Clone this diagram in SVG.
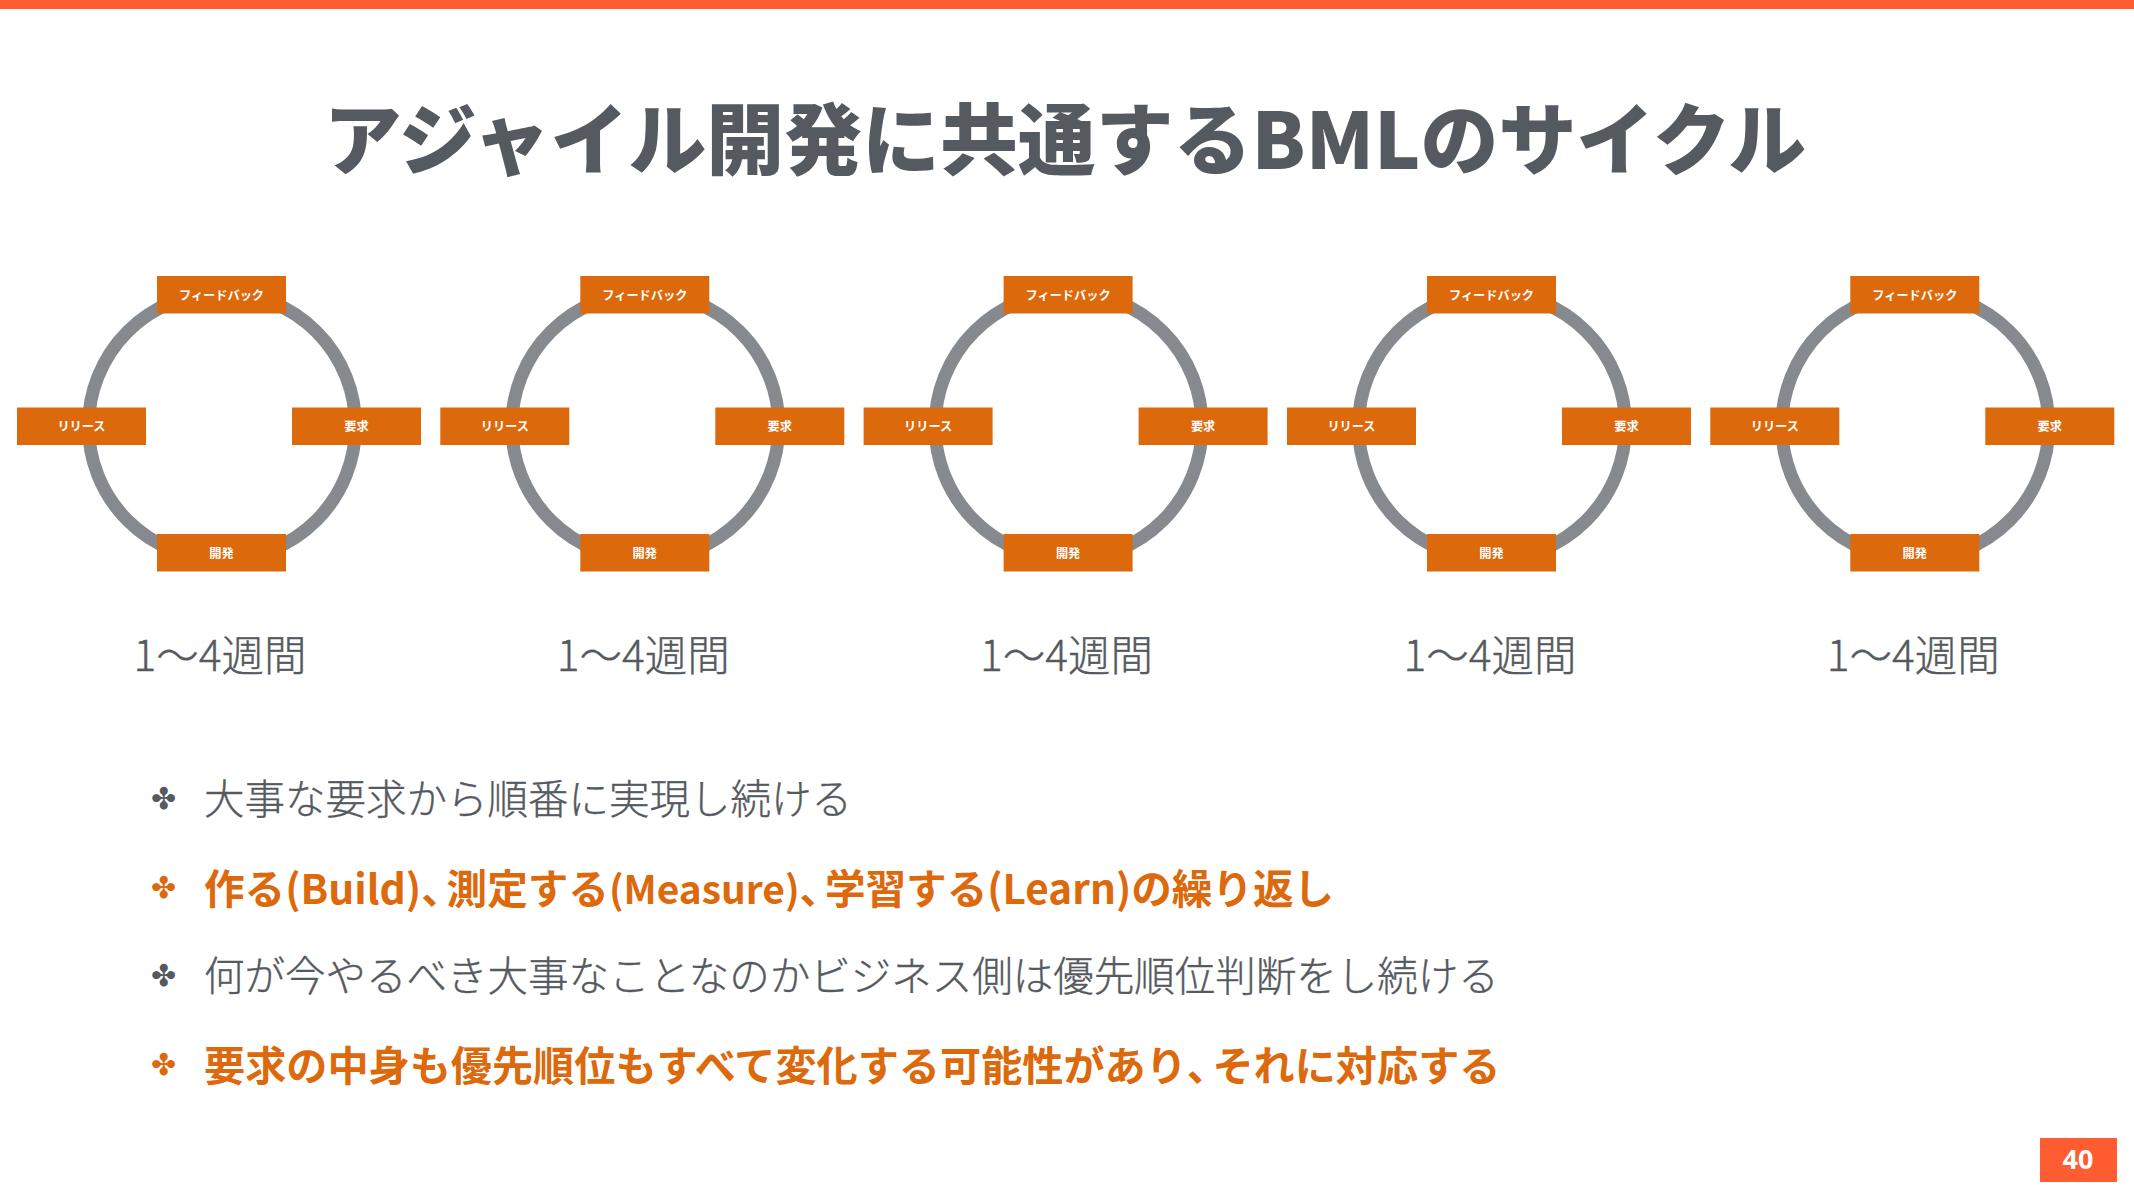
<svg xmlns="http://www.w3.org/2000/svg" width="2134" height="1200" viewBox="0 0 2134 1200">
<style>
text{font-family:"Noto Sans CJK JP","Noto Sans",sans-serif}
.ring{fill:none;stroke:#868a8f;stroke-width:13}
.box{fill:#dd690d}
.lbl{font-size:12.200px;font-weight:700;fill:#fff;text-anchor:middle}
.wk{font-size:42.500px;font-weight:300;fill:#555a60;stroke:#555a60;stroke-width:.35;text-anchor:middle}
.b{font-size:40.500px;font-weight:300;fill:#555a60;stroke:#555a60;stroke-width:.35}
.o{font-size:41.150px;font-weight:700;fill:#dd690d;stroke:none}
.p{font-feature-settings:"palt"}
.m{font-family:"DejaVu Sans",sans-serif;font-size:30px;fill:#555a60}
.mo{fill:#dd690d}
</style>
<rect width="2134" height="1200" fill="#fff"/>
<rect id="top-bar" width="2134" height="9" fill="#ff5d31"/>
<text id="title" x="1065" y="169" text-anchor="middle" font-size="77.900" font-weight="900" fill="#555a60">アジャイル開発に共通するBMLのサイクル</text>
<g id="cycle-1">
<circle class="ring" cx="222" cy="426" r="133.500"/>
<rect class="box" x="157" y="276" width="129" height="37.500"/>
<rect class="box" x="17" y="407.500" width="129" height="37.500"/>
<rect class="box" x="292" y="407.500" width="129" height="37.500"/>
<rect class="box" x="157" y="534" width="129" height="37.500"/>
<text class="lbl" x="221.500" y="299.500">フィードバック</text>
<text class="lbl" x="81.500" y="431">リリース</text>
<text class="lbl" x="356.500" y="431">要求</text>
<text class="lbl" x="221.500" y="558">開発</text>
<text class="wk" x="220" y="670.500">1～4週間</text>
</g>
<g id="cycle-2" transform="translate(423.300 0)">
<circle class="ring" cx="222" cy="426" r="133.500"/>
<rect class="box" x="157" y="276" width="129" height="37.500"/>
<rect class="box" x="17" y="407.500" width="129" height="37.500"/>
<rect class="box" x="292" y="407.500" width="129" height="37.500"/>
<rect class="box" x="157" y="534" width="129" height="37.500"/>
<text class="lbl" x="221.500" y="299.500">フィードバック</text>
<text class="lbl" x="81.500" y="431">リリース</text>
<text class="lbl" x="356.500" y="431">要求</text>
<text class="lbl" x="221.500" y="558">開発</text>
<text class="wk" x="220" y="670.500">1～4週間</text>
</g>
<g id="cycle-3" transform="translate(846.600 0)">
<circle class="ring" cx="222" cy="426" r="133.500"/>
<rect class="box" x="157" y="276" width="129" height="37.500"/>
<rect class="box" x="17" y="407.500" width="129" height="37.500"/>
<rect class="box" x="292" y="407.500" width="129" height="37.500"/>
<rect class="box" x="157" y="534" width="129" height="37.500"/>
<text class="lbl" x="221.500" y="299.500">フィードバック</text>
<text class="lbl" x="81.500" y="431">リリース</text>
<text class="lbl" x="356.500" y="431">要求</text>
<text class="lbl" x="221.500" y="558">開発</text>
<text class="wk" x="220" y="670.500">1～4週間</text>
</g>
<g id="cycle-4" transform="translate(1270 0)">
<circle class="ring" cx="222" cy="426" r="133.500"/>
<rect class="box" x="157" y="276" width="129" height="37.500"/>
<rect class="box" x="17" y="407.500" width="129" height="37.500"/>
<rect class="box" x="292" y="407.500" width="129" height="37.500"/>
<rect class="box" x="157" y="534" width="129" height="37.500"/>
<text class="lbl" x="221.500" y="299.500">フィードバック</text>
<text class="lbl" x="81.500" y="431">リリース</text>
<text class="lbl" x="356.500" y="431">要求</text>
<text class="lbl" x="221.500" y="558">開発</text>
<text class="wk" x="220" y="670.500">1～4週間</text>
</g>
<g id="cycle-5" transform="translate(1693.300 0)">
<circle class="ring" cx="222" cy="426" r="133.500"/>
<rect class="box" x="157" y="276" width="129" height="37.500"/>
<rect class="box" x="17" y="407.500" width="129" height="37.500"/>
<rect class="box" x="292" y="407.500" width="129" height="37.500"/>
<rect class="box" x="157" y="534" width="129" height="37.500"/>
<text class="lbl" x="221.500" y="299.500">フィードバック</text>
<text class="lbl" x="81.500" y="431">リリース</text>
<text class="lbl" x="356.500" y="431">要求</text>
<text class="lbl" x="221.500" y="558">開発</text>
<text class="wk" x="220" y="670.500">1～4週間</text>
</g>
<g id="bullets">
<text class="m" x="151" y="809">✤</text><text class="b" x="204" y="814">大事な要求から順番に実現し続ける</text>
<text class="m mo" x="151" y="898">✤</text><text class="b o" x="204" y="904" style="font-size:40.600px">作る<tspan font-size="40.800">(Build)</tspan><tspan class="p">、</tspan><tspan dx="5">測定する</tspan><tspan font-size="38.900">(Measure)</tspan><tspan class="p">、</tspan><tspan dx="5">学習する</tspan><tspan font-size="40.500">(Learn)</tspan>の繰り返し</text>
<text class="m" x="151" y="986">✤</text><text class="b" x="204" y="991">何が今やるべき大事なことなのかビジネス側は優先順位判断をし続ける</text>
<text class="m mo" x="151" y="1075">✤</text><text class="b o" x="204" y="1081">要求の中身も優先順位もすべて変化する可能性があり<tspan class="p">、</tspan><tspan dx="5">それに対応する</tspan></text>
</g>
<g id="page"><rect x="2040" y="1138" width="77" height="44" fill="#ff5d31"/><text x="2078" y="1169" text-anchor="middle" font-size="27" font-weight="700" fill="#fff" style="font-family:'Noto Sans',sans-serif">40</text></g>
</svg>
